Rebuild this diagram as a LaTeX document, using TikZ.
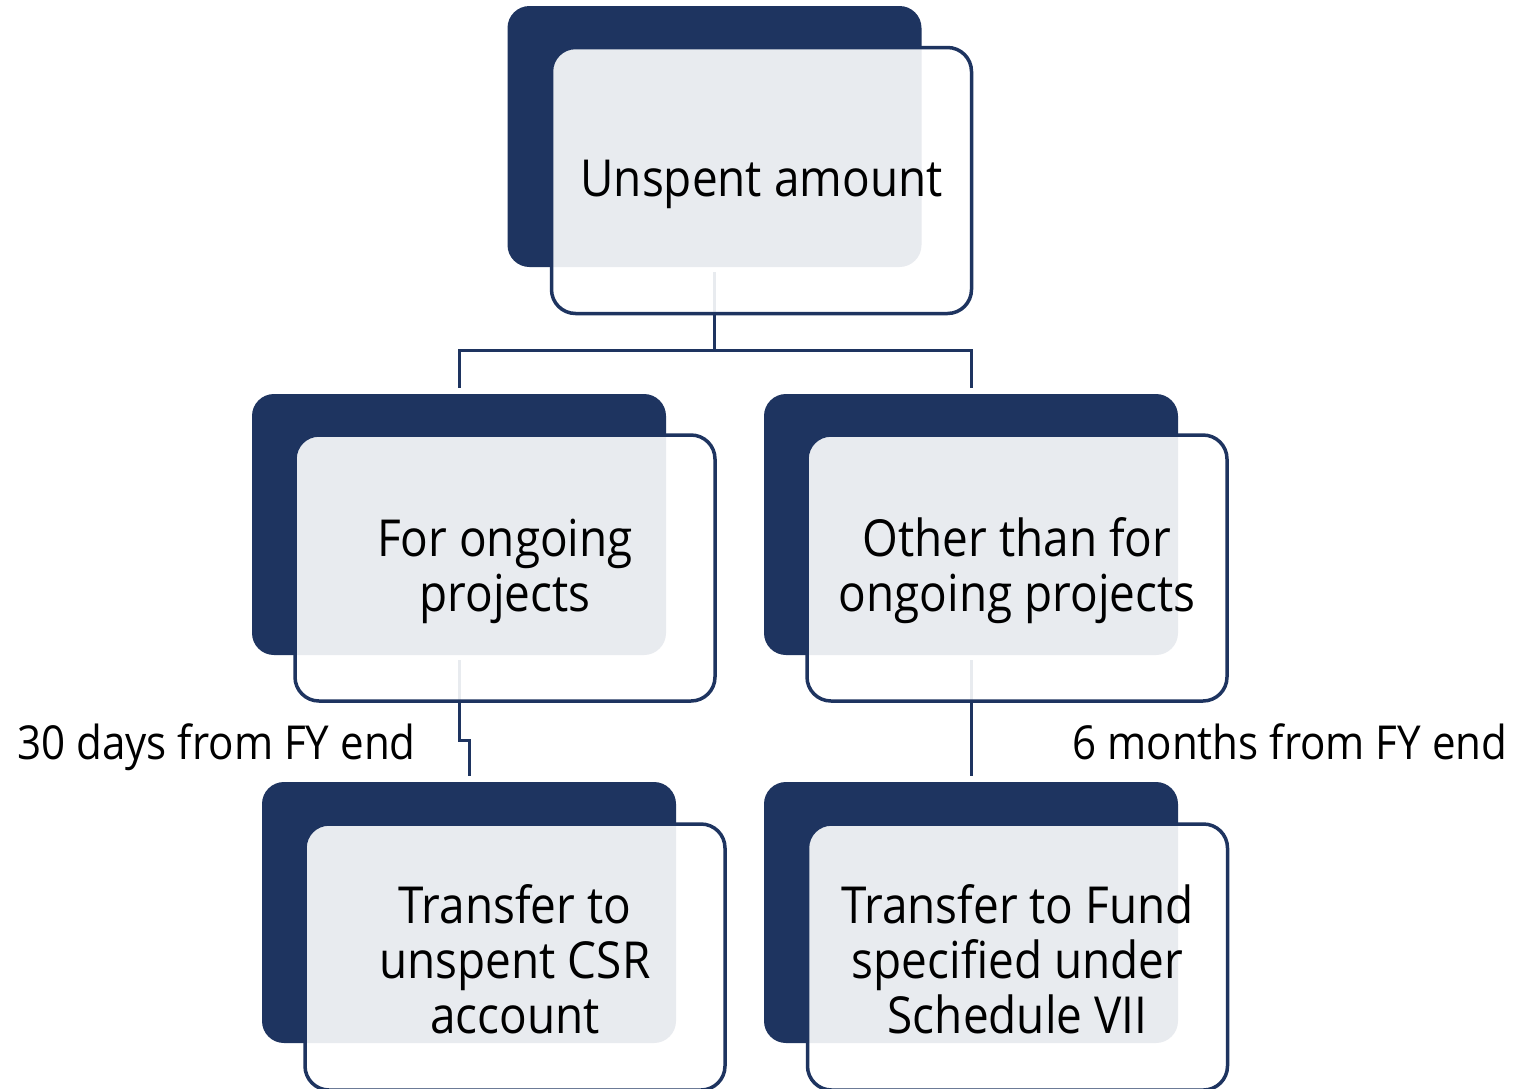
\documentclass[tikz,border=0pt]{standalone}
\usepackage{fontspec}
\setmainfont[FakeStretch=0.90]{Open Sans}
\definecolor{navy}{RGB}{30,52,96}
\begin{document}
\begin{tikzpicture}[x=1pt,y=-1pt,
  darkbox/.style={fill=navy, draw=none, rounded corners=22pt, minimum width=414pt, minimum height=261pt, inner sep=0pt},
  frontbox/.style={draw=navy, line width=3.5pt, fill=white, fill opacity=0.9, rounded corners=24pt, minimum width=420pt, minimum height=266pt, inner sep=0pt},
  boxtext/.style={align=center, inner sep=0pt, font=\fontsize{51}{55}\selectfont, text=black},
  conn/.style={draw=navy, line width=3pt},
  lbl/.style={font=\fontsize{46.8}{50}\selectfont, anchor=base, inner sep=0pt, text=black}]
\useasboundingbox (0,0) rectangle (1516,1088);
\clip (0,0) rectangle (1516,1088);
\fill[white] (0,0) rectangle (1516,1088);
% back boxes
\node[darkbox] (topD) at (714.5,136.5) {};
\node[darkbox] (mlD) at (459,524.5) {};
\node[darkbox] (mrD) at (971,524.5) {};
\node[darkbox] (blD) at (469,912.5) {};
\node[darkbox] (brD) at (971,912.5) {};
% connectors
\coordinate (split) at (714.5,350);
\coordinate (jogL) at (459,740);
\draw[conn] ([yshift=-5pt]topD.south) -- (split);
\draw[conn] ([yshift=6pt]mlD.north) |- (split) -| ([yshift=6pt]mrD.north);
\draw[conn] ([yshift=-5pt]mlD.south) -- (jogL) -| ([yshift=6pt]blD.north);
\draw[conn] ([yshift=-5pt]mrD.south) -- ([yshift=6pt]brD.north);
% front boxes
\node[frontbox] (topF) at (761.5,180.5) {};
\node[frontbox] (mlF) at (505,568) {};
\node[frontbox] (mrF) at (1017,568) {};
\node[frontbox] (blF) at (515,957) {};
\node[frontbox] (brF) at (1017.5,957) {};
% box texts
\node[boxtext] (topT) at ([yshift=-4pt]topF.center) {Unspent amount};
\node[boxtext] (mlT) at ([yshift=-3pt]mlF.center) {For ongoing\\projects};
\node[boxtext] (mrT) at ([yshift=-3pt]mrF.center) {Other than for\\ongoing projects};
\node[boxtext] (blT) at ([yshift=-2pt]blF.center) {Transfer to\\unspent CSR\\account};
\node[boxtext] (brT) at ([yshift=-2pt]brF.center) {Transfer to Fund\\specified under\\Schedule VII};
% labels
\node[lbl] (lblL) at (216.5,759) {30 days from FY end};
\node[lbl] (lblR) at (1290,759) {6 months from FY end};
\end{tikzpicture}
\end{document}
